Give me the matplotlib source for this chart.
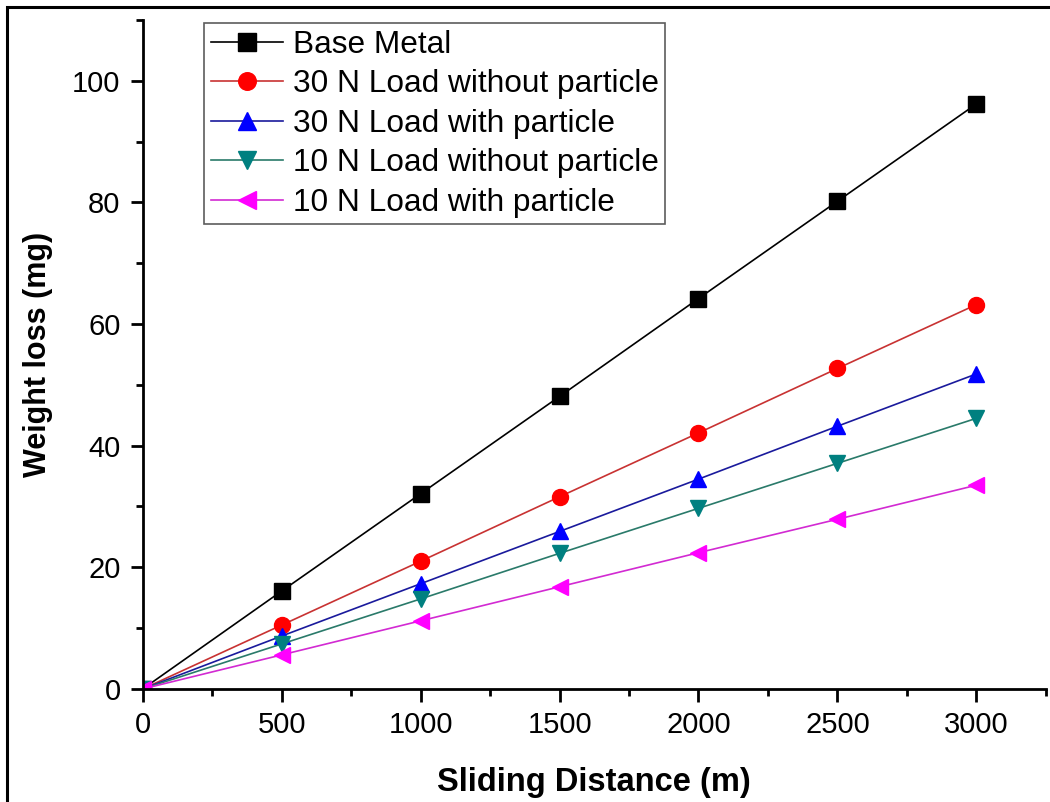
import matplotlib
matplotlib.use('Agg')
import matplotlib.pyplot as plt
from matplotlib.patches import Rectangle
from matplotlib.ticker import MultipleLocator

plt.rcParams['font.family'] = ['Liberation Sans', 'DejaVu Sans']

# sliding distance (m)
distance = [0, 500, 1000, 1500, 2000, 2500, 3000]

# weight loss (mg)
base_metal = [0, 16.1, 32.1, 48.1, 64.2, 80.2, 96.2]
load30_without = [0, 10.5, 21.0, 31.6, 42.1, 52.7, 63.2]
load30_with = [0, 8.7, 17.3, 25.9, 34.5, 43.2, 51.8]
load10_without = [0, 7.4, 14.8, 22.3, 29.7, 37.1, 44.5]
load10_with = [0, 5.6, 11.2, 16.8, 22.4, 27.9, 33.5]

labels = ['Base Metal', '30 N Load without particle', '30 N Load with particle',
          '10 N Load without particle', '10 N Load with particle']

fig = plt.figure(figsize=(10.5, 8.02), dpi=100)
ax = fig.add_axes([0.136, 0.141, 0.860, 0.834])

# outer frame around the picture
fig.patches.append(Rectangle((0.0067, -0.05), 1.1, 1.0413, transform=fig.transFigure,
                             fill=False, edgecolor='black', linewidth=2.2))

series = [base_metal, load30_without, load30_with, load10_without, load10_with]
colors = ['black', '#ff0000', '#0000ff', '#008080', '#ff00ff']
lcolors = ['black', '#c83232', '#1a1a9c', '#2a7a6a', '#d22ad2']
markers = ['s', 'o', '^', 'v', '<']

for ys, c, lc, m, lab in zip(series, colors, lcolors, markers, labels):
    ax.plot(distance, ys, color=lc, linewidth=1.2, marker=m, markersize=11.5,
            markerfacecolor=c, markeredgecolor=c, label=lab)

ax.set_xlim(0, 3250)
ax.set_ylim(0, 110)
ax.xaxis.set_major_locator(MultipleLocator(500))
ax.xaxis.set_minor_locator(MultipleLocator(250))
ax.yaxis.set_major_locator(MultipleLocator(20))
ax.yaxis.set_minor_locator(MultipleLocator(10))

ax.spines['top'].set_visible(False)
ax.spines['right'].set_visible(False)
ax.spines['left'].set_linewidth(2)
ax.spines['bottom'].set_linewidth(2)
ax.tick_params(which='major', length=9, width=2, labelsize=21, pad=7)
ax.tick_params(which='minor', length=5, width=2)

ax.set_xlabel('Sliding Distance (m)', fontsize=23.5, fontweight='bold', labelpad=20)
ax.set_ylabel('Weight loss (mg)', fontsize=22, fontweight='bold', labelpad=14)

leg = ax.legend(loc='upper left', bbox_to_anchor=(0.068, 0.995), fontsize=22.8,
                frameon=True, fancybox=False, edgecolor='#333333', handlelength=2.3,
                handletextpad=0.3, labelspacing=0.3, borderpad=0.2, borderaxespad=0,
                markerscale=1.1)
leg.get_frame().set_linewidth(1.2)

fig.savefig('out.png', dpi=100)
